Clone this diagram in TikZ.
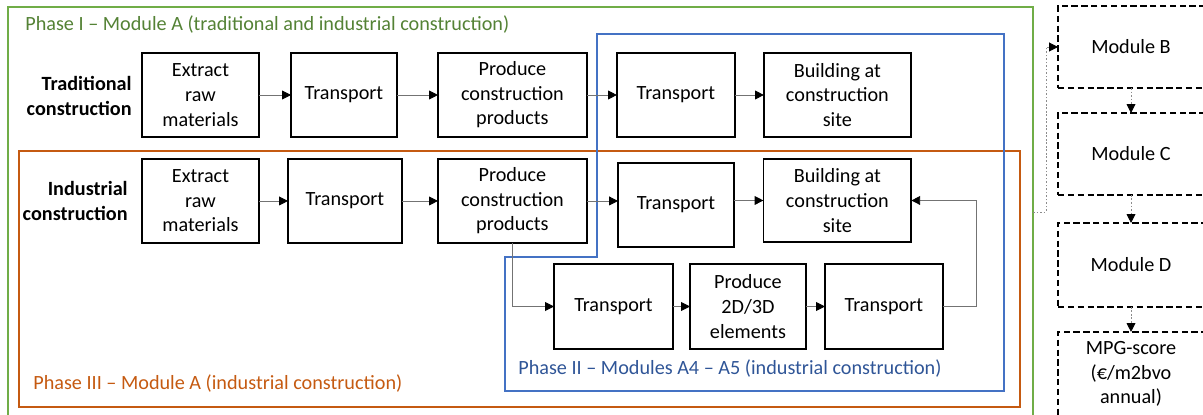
\documentclass[tikz,border=0pt]{standalone}
\usepackage{fontspec}
\setmainfont{Carlito}
\usetikzlibrary{arrows.meta, positioning}

\definecolor{phaseone}{RGB}{112,173,71}
\definecolor{phaseonetxt}{RGB}{84,130,53}
\definecolor{phasetwo}{RGB}{68,114,196}
\definecolor{phasetwotxt}{RGB}{47,85,151}
\definecolor{phasethree}{RGB}{197,90,17}

\begin{document}
\begin{tikzpicture}[
    x=0.02cm, y=-0.02cm,
    every node/.style={font=\fontsize{11.5}{14}\selectfont},
    box/.style={draw=black,line width=1pt,rectangle,align=center,inner sep=0pt,outer sep=0pt,minimum height=1.68cm},
    mod/.style={draw=black,line width=1pt,dash pattern=on 3.6pt off 2pt,align=center,inner sep=0pt,outer sep=0pt,minimum width=2.92cm,minimum height=1.64cm},
    flow/.style={draw=black!55,line width=0.5pt,-{Triangle[length=5pt,width=5pt,color=black]}},
    link/.style={draw=black!45,line width=0.5pt,dash pattern=on 1pt off 1pt,-{Triangle[length=5pt,width=5pt,color=black]}},
    lbl/.style={font=\fontsize{11.5}{14}\selectfont\bfseries,align=right,anchor=east,inner sep=0pt}
]
\useasboundingbox (0,0) rectangle (1203,415);
\clip (0,0) rectangle (1203,415);

% Phase frames
\draw[phaseone, line width=1.1pt] (8,7) rectangle (1033,430);
\draw[phasethree, line width=0.9pt] (19,151) rectangle (1020,407);
\draw[phasetwo, line width=0.9pt] (597,34) -- (1004,34) -- (1004,391) -- (505,391) -- (505,257) -- (597,257) -- cycle;

\node[text=phaseonetxt, anchor=west, inner sep=0pt] (ph1) at (25,25) {Phase I – Module A (traditional and industrial construction)};
\node[text=phasetwotxt, anchor=west, inner sep=0pt] (ph2) at (518,369) {Phase II – Modules A4 – A5 (industrial construction)};
\node[text=phasethree, anchor=west, inner sep=0pt] (ph3) at (33,384) {Phase III – Module A (industrial construction)};

% Traditional row
\node[box, minimum width=2.34cm] (te1) at (200.5,95) {Extract\\raw\\materials};
\node[box, minimum width=2.12cm, right=0.64cm of te1] (te2) {Transport};
\node[box, minimum width=2.98cm, right=0.82cm of te2] (te3) {Produce\\construction\\products};
\node[box, minimum width=2.36cm, right=0.6cm of te3] (te4) {Transport};
\node[box, minimum width=2.94cm, right=0.58cm of te4] (te5) {Building at\\construction\\site};
\node[lbl] (trad) at (132,96) {Traditional\\construction};

% Industrial row
\node[box, minimum width=2.34cm, below=0.44cm of te1] (in1) {Extract\\raw\\materials};
\node[box, minimum width=2.28cm, right=0.58cm of in1] (in2) {Transport};
\node[box, minimum width=2.98cm, right=0.72cm of in2] (in3) {Produce\\construction\\products};
\node[box, minimum width=2.32cm] (in4) at (676,205) {Transport};
\node[box, minimum width=2.96cm, minimum height=1.66cm, below=0.44cm of te5] (in5) {Building at\\construction\\site};
\node[lbl] (ind) at (128,201) {Industrial\\construction};

% Prefab branch
\node[box, minimum width=2.38cm, minimum height=1.7cm] (pf1) at (613.5,306.5) {Transport};
\node[box, minimum width=2.32cm, minimum height=1.7cm, right=0.34cm of pf1] (pf2) {Produce\\2D/3D\\elements};
\node[box, minimum width=2.36cm, minimum height=1.7cm, right=0.38cm of pf2] (pf3) {Transport};

% Other modules
\node[mod] (mb) at (1131,47) {Module B};
\node[mod, below=0.5cm of mb] (mc) {Module C};
\node[mod, minimum height=1.68cm, below=0.56cm of mc] (md) {Module D};
\node[mod, minimum height=1.68cm, below=0.5cm of md] (mpg) {MPG-score\\(€/m2bvo\\annual)};
\coordinate (gout) at (1033,212);

% Connections
\draw[flow] (te1) -- (te2);
\draw[flow] (te2) -- (te3);
\draw[flow] (te3) -- (te4);
\draw[flow] (te4) -- (te5);

\draw[flow] (in1) -- (in2);
\draw[flow] (in2) -- (in3);
\draw[flow] (in3.east) -- (in3.east -| in4.west);
\draw[flow] (in4.east |- in5.west) -- (in5.west);
\draw[flow] (in3.south) |- (pf1.west);
\draw[flow] (pf1) -- (pf2);
\draw[flow] (pf2) -- (pf3);
\draw[flow] (pf3.east) -- ++(33,0) |- (in5.east);

\draw[link] (gout) -- ++(13,0) |- (mb.west);
\draw[link] (mb) -- (mc);
\draw[link] (mc) -- (md);
\draw[link] (md) -- (mpg);

\end{tikzpicture}
\end{document}
